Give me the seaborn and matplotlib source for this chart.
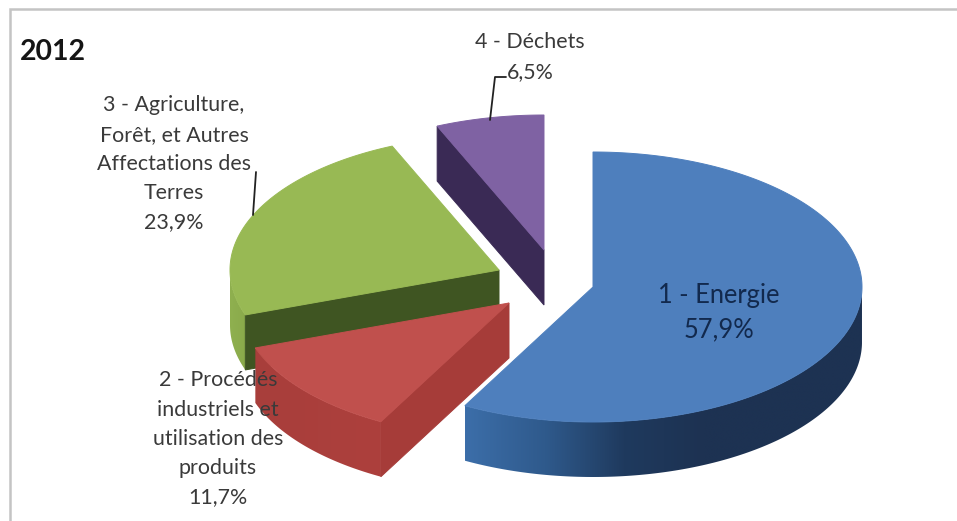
import numpy as np
import matplotlib
matplotlib.use("Agg")
import matplotlib.pyplot as plt
from matplotlib.colors import to_rgb
from matplotlib.patches import Polygon
import seaborn as sns

# Emissions breakdown, 2012
categories = ["1 - Energie",
              "2 - Procédés\nindustriels et\nutilisation des\nproduits",
              "3 - Agriculture,\nForêt, et Autres\nAffectations des\nTerres",
              "4 - Déchets"]
shares = [57.9, 11.7, 23.9, 6.5]
share_labels = ["57,9%", "11,7%", "23,9%", "6,5%"]
title = "2012"

top_colors = ["#4e7fbd", "#c0504d", "#98b954", "#7f62a3"]
cut_colors = ["#3b6aa3", "#a63c39", "#3f5522", "#3a2a55"]
# Wall shading from the left of each slice to its right
rim_ramps = [["#3c6ea9", "#2f5a8c", "#1f3a5e", "#1d3252", "#1d3252", "#1d3252"],
             ["#a83e3b", "#ad403d"],
             ["#8fb04f", "#8aaa4b"],
             ["#6a4f8c", "#6a4f8c"]]

# Exploded slice apexes and pie proportions, in pixels of the canvas
apexes = [(593, 287), (509, 303), (499, 270), (544, 250)]
RX, RY, DEPTH = 269, 135, 55

sns.set_theme(style="white")
plt.rcParams["font.family"] = ["Lato", "DejaVu Sans"]

fig = plt.figure(figsize=(9.57, 5.21), dpi=100)
ax = fig.add_axes([0, 0, 1, 1])


def rim_point(apex, deg):
    rad = np.deg2rad(deg)
    return apex[0] + RX * np.sin(rad), apex[1] - RY * np.cos(rad)


def draw_slice(i, start, end, order):
    apex = apexes[i]
    angles = np.linspace(start, end, 240)
    xs, ys = rim_point(apex, angles)

    # Outer wall: only the part turned towards the viewer, as a clipped gradient
    front = np.cos(np.deg2rad(angles)) < 0
    if front.sum() > 1:
        fx, fy = xs[front], ys[front]
        outline = np.c_[np.r_[fx, fx[::-1]], np.r_[fy, fy[::-1] + DEPTH]]
        ramp = sns.blend_palette(rim_ramps[i], 256)
        strip = np.array([to_rgb(c) for c in ramp])[np.newaxis, :, :]
        clip = Polygon(outline, closed=True, transform=ax.transData)
        im = ax.imshow(strip, extent=(fx.min(), fx.max(), fy.max() + DEPTH, fy.min()),
                       aspect="auto", interpolation="bilinear", zorder=order)
        im.set_clip_path(clip)

    # Radial cut face, visible when its outward normal points to the viewer
    if np.cos(np.deg2rad(start - 90)) < -0.01:
        sx, sy = rim_point(apex, start)
        ax.fill([apex[0], sx, sx, apex[0]],
                [apex[1], sy, sy + DEPTH, apex[1] + DEPTH],
                color=cut_colors[i], lw=0.7, zorder=order)

    # Top surface
    ax.fill(np.r_[apex[0], xs], np.r_[apex[1], ys],
            color=top_colors[i], lw=0.7, zorder=order + 0.5)


# Green sits behind red; blue and purple do not overlap anything
stacking = {2: 2, 1: 3, 0: 4, 3: 5}
bounds = np.cumsum([0] + shares) / sum(shares) * 360
for i in range(len(shares)):
    draw_slice(i, bounds[i], bounds[i + 1], stacking[i])

# Chart frame (top and left edges fall inside the canvas)
ax.plot([10, 10, 957], [521, 9, 9], color="#c4c4c4", lw=1.8, zorder=1,
        solid_joinstyle="miter")

ax.text(20, 52, title, fontsize=20.4, fontweight="bold", color="#151515",
        ha="left", va="center", zorder=10)

label_kw = dict(fontsize=15.4, linespacing=1.58, ha="center", va="center",
                color="#3a3a3a", zorder=10)
ax.text(174, 164, f"{categories[2]}\n{share_labels[2]}", **label_kw)
ax.text(218, 439, f"{categories[1]}\n{share_labels[1]}", **label_kw)
ax.text(530, 57, f"{categories[3]}\n{share_labels[3]}", **label_kw)
ax.text(719, 313, f"{categories[0]}\n{share_labels[0]}", fontsize=18.4,
        linespacing=1.46, ha="center", va="center", color="#12294d", zorder=10)

# Leader lines
ax.plot([256, 253], [172, 215], color="#222222", lw=1.3, zorder=9)
ax.plot([506, 495, 490], [77, 77, 120], color="#222222", lw=1.3, zorder=9)

ax.set_xlim(0, 957)
ax.set_ylim(521, 0)
ax.axis("off")

fig.savefig("out.png", dpi=100, facecolor="white")
